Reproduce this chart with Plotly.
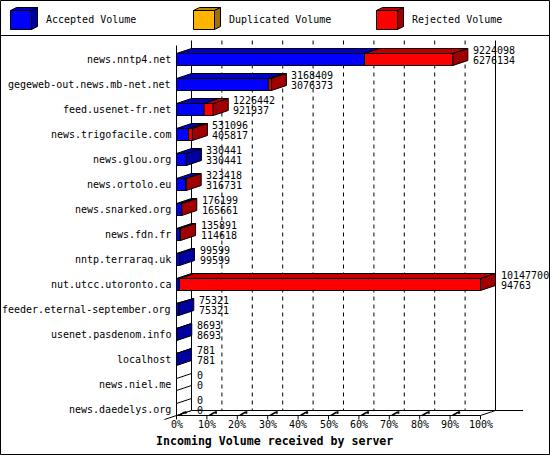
import plotly.graph_objects as go

# data
servers = ["news.nntp4.net", "gegeweb-out.news.mb-net.net", "feed.usenet-fr.net",
           "news.trigofacile.com", "news.glou.org", "news.ortolo.eu", "news.snarked.org",
           "news.fdn.fr", "nntp.terraraq.uk", "nut.utcc.utoronto.ca",
           "feeder.eternal-september.org", "usenet.pasdenom.info", "localhost",
           "news.niel.me", "news.daedelys.org"]
offered = [9224098, 3168409, 1226442, 531096, 330441, 323418, 176199, 135891,
           99599, 10147700, 75321, 8693, 781, 0, 0]
accepted = [6276134, 3076373, 921937, 405817, 330441, 316731, 165661, 114618,
            99599, 94763, 75321, 8693, 781, 0, 0]
duplicated = [0, 0, 0, 0, 0, 0, 0, 0, 0, 0, 0, 0, 0, 0, 0]
rejected = [o - a - d for o, a, d in zip(offered, accepted, duplicated)]

series_names = ["Accepted Volume", "Duplicated Volume", "Rejected Volume"]
pct_ticks = [0, 10, 20, 30, 40, 50, 60, 70, 80, 90, 100]
pct_labels = ["0%", "10%", "20%", "30%", "40%", "50%", "60%", "70%", "80%", "90%", "100%"]
x_title = "Incoming Volume received by server"

# colours: front, top, side
colors = [("#0000FF", "#0000C0", "#0000A0"),
          ("#FFB400", "#C08800", "#A07000"),
          ("#FF0000", "#C00000", "#A00000")]

W, H = 550, 455
X0PX, XS = 176.5, 3.04      # px of 0%, px per percent
Y0PX, YS = 59.5, 25.0       # px of first row, px per row
DX = 15 / XS                # 3d depth in data units
DY = 5 / YS
HALF = 6 / YS               # half bar height
FLOOR = 14.24               # front floor edge (row units)
WALL_TOP = -0.76
FONT = "DejaVu Sans Mono"

scale = max(offered)


def px(x):
    return x / W


def py(y):
    return 1 - y / H


fronts = [[[], []] for _ in colors]
tops = [[[], []] for _ in colors]
sides = [[[], []] for _ in colors]
white_sides = [[], []]


def add_poly(store, pts):
    for x, y in pts + [pts[0]]:
        store[0].append(x)
        store[1].append(y)
    store[0].append(None)
    store[1].append(None)


annotations = []
for i, name in enumerate(servers):
    top, bot = i - HALF, i + HALF
    s = 0.0
    last = None
    for k, vals in enumerate([accepted, duplicated, rejected]):
        w = vals[i] / scale * 100
        if w <= 0:
            continue
        add_poly(fronts[k], [(s, top), (s + w, top), (s + w, bot), (s, bot)])
        add_poly(tops[k], [(s, top), (s + DX, top - DY), (s + w + DX, top - DY), (s + w, top)])
        s += w
        last = k
    side = [(s, top), (s + DX, top - DY), (s + DX, bot - DY), (s, bot)]
    add_poly(sides[last] if last is not None else white_sides, side)

    annotations.append(dict(x=-1.3, y=i, xref="x", yref="y", text=name, showarrow=False,
                            xanchor="right", yanchor="middle", font=dict(family=FONT, size=10, color="black")))
    for txt, dy in ((offered[i], -0.38), (accepted[i], 0.05)):
        annotations.append(dict(x=s + DX + 1.0, y=i + dy, xref="x", yref="y", text=str(txt),
                                showarrow=False, xanchor="left", yanchor="middle",
                                font=dict(family=FONT, size=10, color="black")))

fig = go.Figure()
line = dict(color="black", width=1)
fig.add_trace(go.Scatter(x=white_sides[0], y=white_sides[1], mode="lines", fill="toself",
                         fillcolor="white", line=line, hoverinfo="skip"))
for k, (cf, ct, cs) in enumerate(colors):
    for store, c in ((fronts[k], cf), (tops[k], ct), (sides[k], cs)):
        if store[0]:
            fig.add_trace(go.Scatter(x=store[0], y=store[1], mode="lines", fill="toself",
                                     fillcolor=c, line=line, hoverinfo="skip"))

shapes = []
back_floor = FLOOR - DY
# back wall gridlines
for t in pct_ticks[1:-1]:
    shapes.append(dict(type="line", xref="x", yref="y", x0=t + DX, x1=t + DX, y0=WALL_TOP, y1=back_floor,
                       line=dict(color="black", width=1, dash="4px,4px"), layer="below"))
# walls and floor
solid = dict(color="black", width=1)
for seg in [((DX, WALL_TOP), (DX, back_floor)),
            ((0, WALL_TOP + DY), (0, FLOOR)),
            ((100 + DX, WALL_TOP), (100 + DX, back_floor)),
            ((DX, back_floor), (114, back_floor)),
            ((0, FLOOR), (100, FLOOR)),
            ((100, FLOOR), (100 + DX, back_floor)),
            ((-DX * 0.8, FLOOR + DY * 0.8), (DX, back_floor))]:
    (a, b), (c, d) = seg
    shapes.append(dict(type="line", xref="x", yref="y", x0=a, y0=b, x1=c, y1=d, line=solid, layer="below"))
# ticks on the floor
for t, lab in zip(pct_ticks, pct_labels):
    shapes.append(dict(type="line", xref="x", yref="y", x0=t, x1=t, y0=FLOOR, y1=FLOOR + 0.16, line=solid))
    if t < 100:
        shapes.append(dict(type="line", xref="x", yref="y", x0=t + 0.8, x1=t + 2.6,
                           y0=FLOOR, y1=FLOOR - 0.13, line=dict(color="black", width=1.5)))
        shapes.append(dict(type="line", xref="x", yref="y", x0=t + 2.6, x1=t + 3.3,
                           y0=FLOOR - 0.12, y1=FLOOR - 0.12, line=dict(color="black", width=2.5)))
    annotations.append(dict(x=t, y=14.6, xref="x", yref="y", text=lab, showarrow=False,
                            xanchor="center", yanchor="middle", font=dict(family=FONT, size=10, color="black")))

annotations.append(dict(x=px(274.5), y=py(441), xref="paper", yref="paper", text=x_title, showarrow=False,
                        xanchor="center", yanchor="middle",
                        font=dict(family=FONT, size=11.6, color="black", weight="bold")))

# legend cubes
for lx, name, (cf, ct, cs) in zip([10.5, 193.5, 376.5], series_names, colors):
    def path(pts):
        return "M " + " L ".join(f"{px(a)},{py(b)}" for a, b in pts) + " Z"
    shapes.append(dict(type="path", xref="paper", yref="paper", fillcolor=cf, line=solid,
                       path=path([(lx, 10.5), (lx + 21, 10.5), (lx + 21, 29.5), (lx, 29.5)])))
    shapes.append(dict(type="path", xref="paper", yref="paper", fillcolor=ct, line=solid,
                       path=path([(lx, 10.5), (lx + 6, 7.5), (lx + 27, 7.5), (lx + 21, 10.5)])))
    shapes.append(dict(type="path", xref="paper", yref="paper", fillcolor=cs, line=solid,
                       path=path([(lx + 21, 10.5), (lx + 27, 7.5), (lx + 27, 26.5), (lx + 21, 29.5)])))
    annotations.append(dict(x=px(lx + 33.5), y=py(20), xref="paper", yref="paper", text=name,
                            showarrow=False, xanchor="left", yanchor="middle",
                            font=dict(family=FONT, size=10, color="black")))

# frame and legend separator
shapes.append(dict(type="rect", xref="paper", yref="paper", x0=px(0.5), x1=px(549.5), y0=py(0.5), y1=py(454.5),
                   line=solid))
shapes.append(dict(type="line", xref="paper", yref="paper", x0=0, x1=1, y0=py(35.5), y1=py(35.5), line=solid))

fig.update_layout(
    width=W, height=H, margin=dict(l=0, r=0, t=0, b=0),
    paper_bgcolor="white", plot_bgcolor="white", showlegend=False,
    xaxis=dict(range=[-X0PX / XS, (W - X0PX) / XS], visible=False, fixedrange=True),
    yaxis=dict(range=[(H - Y0PX) / YS, -Y0PX / YS], visible=False, fixedrange=True),
    shapes=shapes, annotations=annotations,
)

fig.write_html("out.html", config={"displayModeBar": False},
               post_script="document.body.style.margin='0';")
